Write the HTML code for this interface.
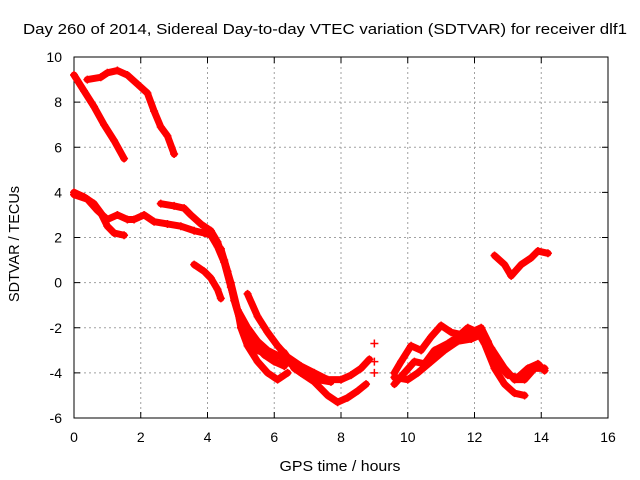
<!DOCTYPE html>
<html><head><meta charset="utf-8"><style>
body{margin:0;background:#fff}
svg{display:block;font-family:"Liberation Sans",sans-serif;font-size:14px}
</style></head><body>
<svg id="chart" width="640" height="480" viewBox="0 0 640 480">
<text x="23" y="34" font-size="15" textLength="604" lengthAdjust="spacingAndGlyphs">Day 260 of 2014, Sidereal Day-to-day VTEC variation (SDTVAR) for receiver dlf1</text>
<g id="grid"></g>
<g id="axes"></g>
<g id="series"></g>
<text x="340" y="471" text-anchor="middle" font-size="15" textLength="121" lengthAdjust="spacingAndGlyphs">GPS time / hours</text>
<text transform="translate(19,244) rotate(-90)" text-anchor="middle" font-size="15" textLength="116" lengthAdjust="spacingAndGlyphs">SDTVAR / TECUs</text>
</svg>
<script>
const xTicks=[0,2,4,6,8,10,12,14,16];
const yTicks=[-6,-4,-2,0,2,4,6,8,10];
const trackA=[[0,9.2],[0.3,8.5],[0.6,7.8],[0.9,7.0],[1.2,6.3],[1.5,5.5]];
const trackB=[[0.4,9.0],[0.8,9.1],[1.0,9.3],[1.3,9.4],[1.6,9.2],[1.9,8.8],[2.2,8.4],[2.4,7.6],[2.6,6.9],[2.8,6.5],[3.0,5.7]];
const trackC=[[0,4.0],[0.3,3.8],[0.6,3.5],[0.8,3.1],[1.0,2.5],[1.2,2.2],[1.5,2.1]];
const trackD=[[0,3.9],[0.4,3.7],[0.7,3.2],[1.0,2.8],[1.3,3.0],[1.6,2.8],[1.8,2.8],[2.1,3.0],[2.4,2.7],[2.8,2.6],[3.2,2.5],[3.6,2.3],[3.9,2.2],[4.1,2.1],[4.3,1.6],[4.5,0.9],[4.7,-0.2],[4.9,-1.2],[5.1,-2.0],[5.4,-2.7],[5.7,-3.2],[6.0,-3.5],[6.3,-3.7]];
const trackE=[[2.6,3.5],[3.0,3.4],[3.3,3.3],[3.5,3.0],[3.8,2.6],[4.1,2.3],[4.3,1.8],[4.5,1.0],[4.7,0],[4.9,-1.2],[5.0,-2.0],[5.2,-2.8],[5.5,-3.5],[5.8,-4.0],[6.1,-4.3],[6.4,-4.0]];
const trackF=[[3.6,0.8],[3.9,0.5],[4.1,0.2],[4.3,-0.3],[4.4,-0.7]];
const trackG=[[5.2,-0.5],[5.5,-1.5],[5.8,-2.2],[6.1,-2.8],[6.4,-3.3],[6.8,-3.7],[7.2,-4.0],[7.6,-4.3],[8.0,-4.3],[8.3,-4.1],[8.6,-3.8],[8.85,-3.4]];
const trackH=[[4.9,-1.2],[5.2,-2.0],[5.5,-2.6],[5.8,-3.0],[6.2,-3.3],[6.5,-3.6],[6.8,-4.0],[7.2,-4.4],[7.6,-5.0],[7.9,-5.3],[8.2,-5.1],[8.5,-4.8],[8.75,-4.5]];
const trackI=[[4.4,1.5],[4.6,0.5],[4.8,-0.8],[5.0,-1.8],[5.2,-2.5],[5.5,-3.0],[5.8,-3.2],[6.0,-3.3],[6.3,-3.1],[6.6,-3.8],[6.9,-4.1],[7.3,-4.3],[7.7,-4.4]];
const trackJ=[[9.6,-4.0],[9.8,-3.5],[10.1,-2.8],[10.4,-3.0],[10.7,-2.4],[11.0,-1.9],[11.3,-2.2],[11.6,-2.3],[11.9,-2.2],[12.2,-2.0],[12.4,-2.6],[12.7,-3.6],[13.0,-4.1],[13.3,-4.2],[13.6,-3.8],[13.9,-3.6],[14.1,-3.9]];
const trackK=[[9.6,-4.5],[9.9,-4.0],[10.2,-3.5],[10.5,-3.6],[10.8,-3.0],[11.2,-2.7],[11.5,-2.4],[11.8,-2.0],[12.1,-2.2],[12.3,-2.7],[12.6,-3.8],[12.9,-4.5],[13.2,-4.9],[13.5,-5.0]];
const trackL=[[9.6,-4.2],[10.0,-4.3],[10.3,-4.0],[10.7,-3.5],[11.1,-3.0],[11.5,-2.6],[11.9,-2.5],[12.2,-2.3],[12.5,-2.9],[12.9,-3.8],[13.2,-4.3],[13.5,-4.3],[13.8,-3.8],[14.1,-3.8]];
const trackM=[[12.6,1.2],[12.9,0.8],[13.1,0.3],[13.4,0.8],[13.7,1.1],[13.9,1.4],[14.2,1.3]];
const isolated=[[9.0,-2.7],[9.0,-3.5],[9.0,-4.0]];
const tracks=[trackA,trackB,trackC,trackD,trackE,trackF,trackG,trackH,trackI,trackJ,trackK,trackL,trackM];

const L=74,R=608,T=57,B=418,xmin=0,xmax=16,ymin=-6,ymax=10;
const sx=v=>L+(v-xmin)/(xmax-xmin)*(R-L);
const sy=v=>B-(v-ymin)/(ymax-ymin)*(B-T);
const NS="http://www.w3.org/2000/svg";
function mk(tag,attrs,parent){const e=document.createElementNS(NS,tag);for(const k in attrs)e.setAttribute(k,attrs[k]);parent.appendChild(e);return e;}
const grid=document.getElementById('grid'),axes=document.getElementById('axes'),ser=document.getElementById('series');
xTicks.forEach(t=>{
  const x=sx(t);
  if(t>xmin&&t<xmax){const g=mk('line',{x1:x,x2:x,y1:T,y2:B,stroke:'#a0a0a0','stroke-dasharray':'2,3'},grid);
  
  }
  mk('line',{x1:x,x2:x,y1:B,y2:B-6,stroke:'#000'},axes);
  mk('line',{x1:x,x2:x,y1:T,y2:T+6,stroke:'#000'},axes);
  const tx=mk('text',{x:x,y:B+24,'text-anchor':'middle'},axes);tx.textContent=t;
  
  
});
yTicks.forEach(t=>{
  const y=sy(t);
  if(t>ymin&&t<ymax){const g=mk('line',{x1:L,x2:R,y1:y,y2:y,stroke:'#a0a0a0','stroke-dasharray':'2,3'},grid);
  
  }
  mk('line',{x1:L,x2:L+6,y1:y,y2:y,stroke:'#000'},axes);
  mk('line',{x1:R,x2:R-6,y1:y,y2:y,stroke:'#000'},axes);
  const tx=mk('text',{x:L-12,y:y+5,'text-anchor':'end'},axes);tx.textContent=t;
  
  
});
mk('rect',{x:L,y:T,width:R-L,height:B-T,fill:'none',stroke:'#000'},axes);
function cross(x,y){mk('path',{d:`M${x-4},${y}h8M${x},${y-4}v8`,stroke:'#f00','stroke-width':1.5},ser);}
tracks.forEach(tr=>{
  const pl=mk('polyline',{points:tr.map(p=>sx(p[0])+','+sy(p[1])).join(' '),fill:'none',stroke:'#f00','stroke-width':7,'stroke-linejoin':'round','stroke-linecap':'round'},ser);
  
  
  tr.forEach(p=>cross(sx(p[0]),sy(p[1])));
});
isolated.forEach(p=>cross(sx(p[0]),sy(p[1])));
</script>
</body></html>
